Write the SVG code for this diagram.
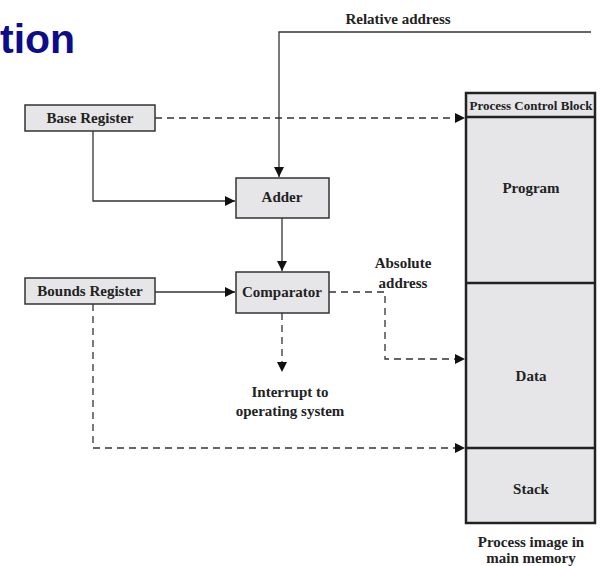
<svg xmlns="http://www.w3.org/2000/svg" width="605" height="566" viewBox="0 0 605 566">
<style>
.box{fill:#e6e6e8;stroke:#333;stroke-width:1.5}
.mem{fill:#e6e6e8;stroke:#222;stroke-width:2.5}
.ln{fill:none;stroke:#333;stroke-width:1.3}
.ds{fill:none;stroke:#333;stroke-width:1.3;stroke-dasharray:7 5}
</style>
<defs>
<marker id="ah" markerWidth="10" markerHeight="10" refX="10" refY="5" orient="auto" markerUnits="userSpaceOnUse">
<path d="M0,0 L10,5 L0,10 Z" fill="#111"/>
</marker>
</defs>
<rect width="605" height="566" fill="#fff"/>
<text x="0" y="53" font-family="Liberation Sans" font-weight="bold" font-size="41" fill="#0d0d8c">tion</text>

<g id="connectors">
<path class="ln" d="M591,32 H279 V177" marker-end="url(#ah)"/>
<path class="ds" d="M155,118 H465" marker-end="url(#ah)"/>
<path class="ln" d="M93,131 V201 H235" marker-end="url(#ah)"/>
<path class="ln" d="M282,218 V271" marker-end="url(#ah)"/>
<path class="ln" d="M155,292 H235" marker-end="url(#ah)"/>
<path class="ds" d="M329,292 H385 V359 H465" marker-end="url(#ah)"/>
<path class="ds" d="M282,313 V372" marker-end="url(#ah)"/>
<path class="ds" d="M93,304 V448 H465" marker-end="url(#ah)"/>
</g>

<g font-family="Liberation Serif" font-weight="bold" fill="#222" text-anchor="middle" font-size="15">
<g id="label-relative">
<text x="398" y="24">Relative address</text>
</g>
<g id="label-absolute">
<text x="403" y="268">Absolute</text>
<text x="403" y="288">address</text>
</g>
<g id="label-interrupt">
<text x="290" y="397">Interrupt to</text>
<text x="290" y="416">operating system</text>
</g>

<g id="base-register">
<rect class="box" x="25" y="105" width="130" height="26"/>
<text x="90" y="123">Base Register</text>
</g>
<g id="bounds-register">
<rect class="box" x="25" y="278" width="130" height="26"/>
<text x="90" y="296">Bounds Register</text>
</g>
<g id="adder">
<rect class="box" x="236" y="178" width="93" height="40"/>
<text x="282" y="202">Adder</text>
</g>
<g id="comparator">
<rect class="box" x="236" y="272" width="93" height="41"/>
<text x="282" y="297">Comparator</text>
</g>

<g id="memory">
<rect class="mem" x="466" y="93" width="129" height="430"/>
<line x1="466" y1="117" x2="595" y2="117" stroke="#222" stroke-width="2.5"/>
<line x1="466" y1="283" x2="595" y2="283" stroke="#222" stroke-width="2.5"/>
<line x1="466" y1="448" x2="595" y2="448" stroke="#222" stroke-width="2.5"/>
<text x="531" y="110" font-size="13">Process Control Block</text>
<text x="531" y="193">Program</text>
<text x="531" y="381">Data</text>
<text x="531" y="494">Stack</text>
<text x="531" y="547">Process image in</text>
<text x="531" y="563">main memory</text>
</g>
</g>
</svg>
